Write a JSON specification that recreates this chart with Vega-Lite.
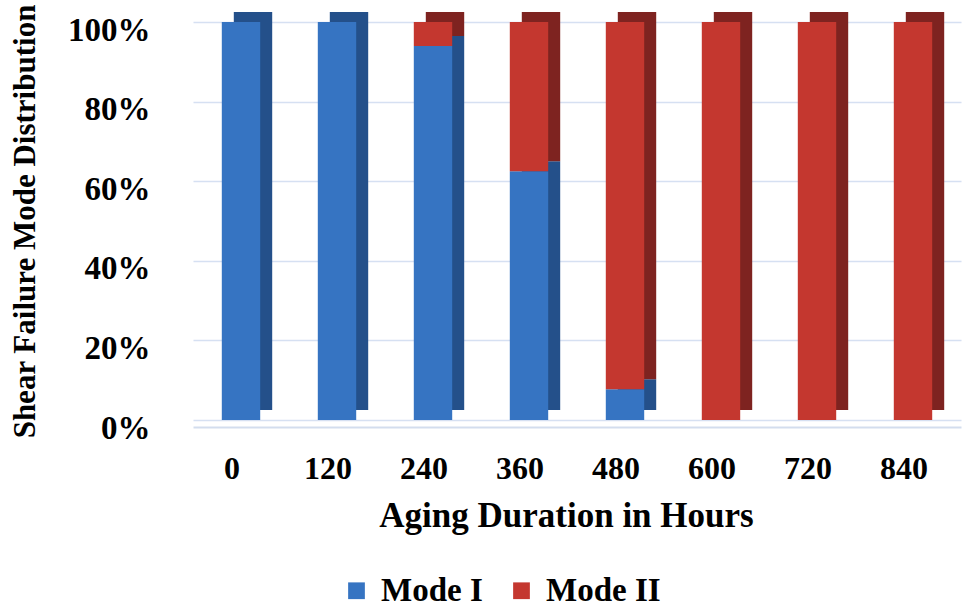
{
  "$schema": "https://vega.github.io/schema/vega-lite/v6.json",
  "width": 768,
  "height": 398,
  "autosize": "none",
  "padding": {"left": 193, "top": 22, "right": 19, "bottom": 189},
  "background": "white",
  "config": {
    "view": {"stroke": null},
    "font": "Liberation Serif"
  },
  "data": {
    "values": [
      {"hours": "0", "mode": "Mode I", "share": 1.0},
      {"hours": "0", "mode": "Mode II", "share": 0.0},
      {"hours": "120", "mode": "Mode I", "share": 1.0},
      {"hours": "120", "mode": "Mode II", "share": 0.0},
      {"hours": "240", "mode": "Mode I", "share": 0.94},
      {"hours": "240", "mode": "Mode II", "share": 0.06},
      {"hours": "360", "mode": "Mode I", "share": 0.625},
      {"hours": "360", "mode": "Mode II", "share": 0.375},
      {"hours": "480", "mode": "Mode I", "share": 0.077},
      {"hours": "480", "mode": "Mode II", "share": 0.923},
      {"hours": "600", "mode": "Mode I", "share": 0.0},
      {"hours": "600", "mode": "Mode II", "share": 1.0},
      {"hours": "720", "mode": "Mode I", "share": 0.0},
      {"hours": "720", "mode": "Mode II", "share": 1.0},
      {"hours": "840", "mode": "Mode I", "share": 0.0},
      {"hours": "840", "mode": "Mode II", "share": 1.0}
    ]
  },
  "encoding": {
    "x": {
      "field": "hours",
      "type": "ordinal",
      "sort": null,
      "scale": {"paddingInner": 0.6, "paddingOuter": 0.3},
      "axis": {
        "title": "Aging Duration in Hours",
        "labelAngle": 0,
        "labelFont": "Liberation Serif",
        "labelFontWeight": "bold",
        "labelFontSize": 32,
        "labelColor": "black",
        "labelPadding": 26,
        "labelOffset": -9,
        "ticks": false,
        "offset": 7,
        "domainColor": "#D3DDEE",
        "domainWidth": 2,
        "titleFont": "Liberation Serif",
        "titleFontWeight": "bold",
        "titleFontSize": 35,
        "titleColor": "black",
        "titlePadding": 14,
        "titleX": 373
      }
    },
    "y": {
      "field": "share",
      "type": "quantitative",
      "stack": "zero",
      "scale": {"domain": [0, 1], "nice": false},
      "axis": {
        "title": "Shear Failure Mode Distribution",
        "format": ".0%",
        "values": [0, 0.2, 0.4, 0.6, 0.8, 1],
        "labelFont": "Liberation Serif",
        "labelFontWeight": "bold",
        "labelFontSize": 33,
        "labelColor": "black",
        "labelPadding": 43,
        "labelOffset": 8,
        "ticks": false,
        "domain": false,
        "gridColor": "#D6E0F2",
        "gridWidth": 1.5,
        "titleFont": "Liberation Serif",
        "titleFontWeight": "bold",
        "titleFontSize": 31,
        "titleColor": "black",
        "titlePadding": 26
      }
    },
    "order": {"field": "mode", "sort": "ascending"}
  },
  "layer": [
    {
      "mark": {"type": "bar", "xOffset": 12, "yOffset": -10},
      "encoding": {
        "color": {
          "field": "mode",
          "type": "nominal",
          "scale": {"domain": ["Mode I", "Mode II"], "range": ["#24508A", "#7E2320"]},
          "legend": null
        }
      }
    },
    {
      "mark": {"type": "bar"},
      "encoding": {
        "color": {
          "field": "mode",
          "type": "nominal",
          "scale": {"domain": ["Mode I", "Mode II"], "range": ["#3674C2", "#C4372F"]},
          "legend": {
            "title": null,
            "orient": "none",
            "direction": "horizontal",
            "legendX": 147,
            "legendY": 552,
            "symbolType": "square",
            "symbolSize": 280,
            "symbolStrokeWidth": 0,
            "labelFont": "Liberation Serif",
            "labelFontWeight": "bold",
            "labelFontSize": 33,
            "labelColor": "black",
            "columnPadding": 22,
            "labelOffset": 8
          }
        }
      }
    }
  ],
  "resolve": {"scale": {"color": "independent"}}
}
